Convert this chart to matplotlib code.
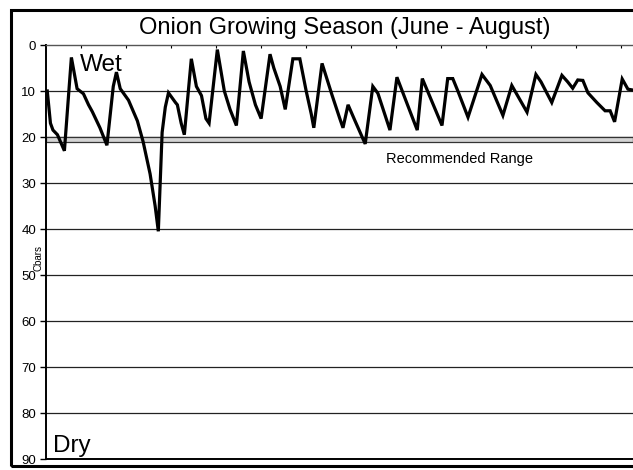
import numpy as np
import matplotlib.pyplot as plt
from matplotlib.patches import Rectangle

plt.rcParams['font.family'] = ['Liberation Sans', 'DejaVu Sans']

# Soil moisture readings (centibars)
days = [0.0, 0.5, 0.9, 1.6, 2.7, 3.8, 4.7, 5.7, 6.5, 7.1, 8.3, 9.4, 10.4, 10.9, 11.5,
        12.8, 14.2, 15.1, 16.2, 17.0, 17.5, 18.1, 18.6, 19.1, 20.2, 20.5, 21.1, 21.6,
        22.7, 23.5, 24.3, 25.0, 25.5, 26.8, 27.9, 28.8, 29.8, 30.9, 31.8, 32.8, 33.7,
        35.1, 35.7, 36.7, 37.5, 38.7, 39.8, 40.8, 41.6, 42.0, 43.3, 44.9, 46.1, 46.6,
        47.4, 48.5, 50.1, 51.3, 52.1, 54.0, 55.1, 57.6, 58.3, 59.1, 62.2, 63.1, 63.9,
        64.7, 66.3, 68.5, 69.8, 71.8, 73.2, 75.6, 77.0, 77.8, 79.5, 81.1, 82.0, 82.8,
        83.6, 84.4, 85.2, 86.6, 87.9, 88.7, 89.4, 90.6, 91.5, 92.3]
cbars = [10, 17, 18.5, 19.5, 23, 2.7, 9.5, 10.6, 13, 14.5, 18, 21.8, 9, 5.9, 9.5,
         12, 16.5, 21, 28, 35, 40.5, 19, 13.5, 10.4, 12.5, 13, 17, 19.5,
         3, 9, 11, 16, 17, 1, 10, 14, 17.5, 1.3, 8, 13, 16,
         2, 5, 9, 14, 3, 3, 10, 15, 18, 4, 11, 16, 18,
         13, 16.5, 21.5, 9, 10.5, 18.5, 7, 16, 18.5, 7.3, 17.5, 7.3, 7.3,
         10, 15.7, 6.4, 8.8, 15.3, 8.8, 14.6, 6.4, 8, 12.5, 6.6, 8, 9.4,
         7.6, 7.7, 10.4, 12.5, 14.3, 14.3, 16.7, 7.4, 9.6, 9.8]

yticks = [0, 10, 20, 30, 40, 50, 60, 70, 80, 90]
rec_low, rec_high = 20, 21

fig = plt.figure(figsize=(6.33, 4.70), dpi=100)
ax = fig.add_axes([46 / 633, 11 / 470, 1 - 46 / 633, 414 / 470])

# outer frame of the picture
fig.patches.append(Rectangle((10.5 / 633, 4 / 470), 1.0, 456 / 470, transform=fig.transFigure,
                             fill=False, edgecolor='black', linewidth=2.2, clip_on=False))

for v in yticks[1:-1]:
    ax.axhline(v, color='#222222', linewidth=0.9, zorder=1)
ax.axhspan(rec_low, rec_high, facecolor='#d4d4d4', edgecolor='#333333', linewidth=0.9, zorder=1.5)

ax.plot(days, cbars, color='black', linewidth=2.3, solid_joinstyle='miter', zorder=3)

ax.set_ylim(90, 0)
ax.set_xlim(-0.2, 92.3)
ax.set_yticks(yticks)
ax.tick_params(axis='y', length=4, width=1, labelsize=9.5, pad=3)
ax.xaxis.tick_top()
ax.set_xticks(np.arange(5.3, 92, 7.09))
ax.set_xticklabels([])
ax.tick_params(axis='x', direction='in', length=2, width=0.8, top=True, bottom=False)

for s in ['left', 'bottom']:
    ax.spines[s].set_linewidth(1.4)
ax.spines['top'].set_color('#555555')
ax.spines['top'].set_linewidth(1.0)
ax.spines['right'].set_visible(False)

ax.text(5.2, 4.3, 'Wet', fontsize=17.5, va='center', ha='left')
ax.text(0.95, 88.4, 'Dry', fontsize=17.5, va='baseline', ha='left')
ax.text(65, 24.7, 'Recommended Range', fontsize=10.5, va='center', ha='center')

fig.text(38 / 633, 1 - 258 / 470, 'Cbars', rotation=90, fontsize=7, ha='center', va='center')
fig.text(345 / 633, 1 - 28 / 470, 'Onion Growing Season (June - August)', fontsize=17,
         ha='center', va='center')

fig.savefig('out.png', dpi=100)
